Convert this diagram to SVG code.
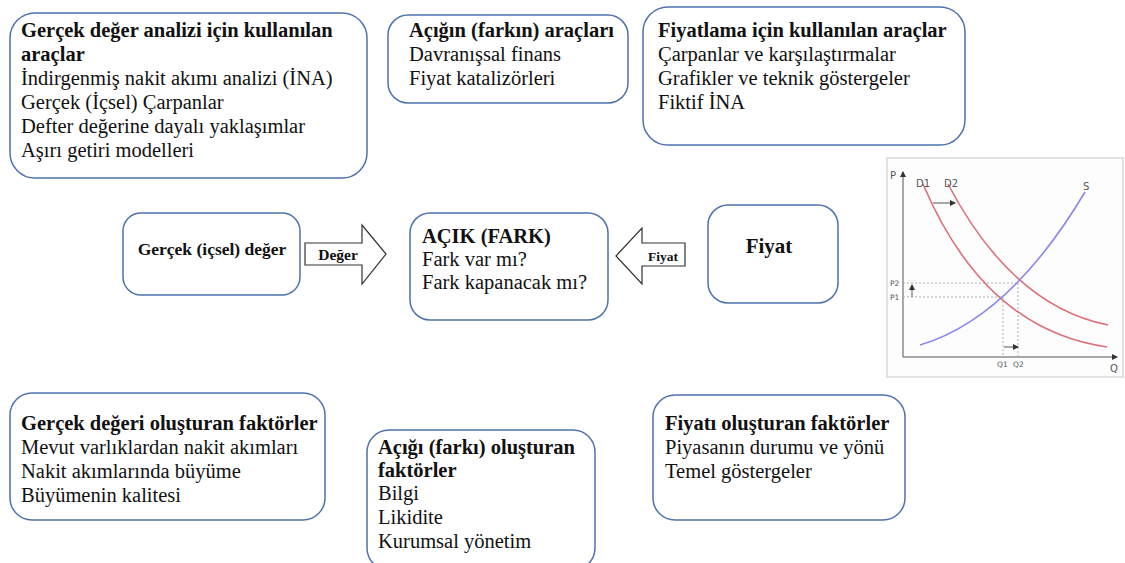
<svg xmlns="http://www.w3.org/2000/svg" width="1125" height="563" viewBox="0 0 1125 563">
<style>
.box{fill:#fff;stroke:#4f72ae;stroke-width:1.5}
.t{font-family:"Liberation Serif","Times New Roman",serif;font-size:20.5px;fill:#111}
.b{font-weight:bold}
.arr{fill:#fff;stroke:#333;stroke-width:1.2}
.al{font-family:"Liberation Serif","Times New Roman",serif;font-weight:bold;fill:#111}
.ax{stroke:#555;stroke-width:1;fill:none}
.dash{stroke:#999;stroke-width:0.8;stroke-dasharray:2,2;fill:none}
.red{stroke:#dd6f7a;stroke-width:1.6;fill:none}
.blue{stroke:#8a86ec;stroke-width:1.6;fill:none}
.cl{font-family:"DejaVu Sans",sans-serif;font-size:10px;fill:#555}
.cs{font-family:"DejaVu Sans",sans-serif;font-size:7.5px;fill:#555}
</style>
<defs>
<marker id="ah" markerWidth="6" markerHeight="6" refX="5" refY="3" orient="auto" markerUnits="userSpaceOnUse"><path d="M0,0 L6,3 L0,6 z" fill="#333"/></marker>
</defs>
<rect width="1125" height="563" fill="#fff"/>

<g id="tools-intrinsic">
<rect class="box" x="10" y="13" width="357" height="165" rx="25"/>
<text class="t b" x="21" y="37">Gerçek değer analizi için kullanılan</text>
<text class="t b" x="21" y="61">araçlar</text>
<text class="t" x="21" y="85">İndirgenmiş nakit akımı analizi (İNA)</text>
<text class="t" x="21" y="109">Gerçek (İçsel) Çarpanlar</text>
<text class="t" x="21" y="133">Defter değerine dayalı yaklaşımlar</text>
<text class="t" x="21" y="157">Aşırı getiri modelleri</text>
</g>

<g id="tools-gap">
<rect class="box" x="388" y="15" width="240" height="88" rx="20"/>
<text class="t b" x="409" y="37">Açığın (farkın) araçları</text>
<text class="t" x="409" y="61">Davranışsal finans</text>
<text class="t" x="409" y="85">Fiyat katalizörleri</text>
</g>

<g id="tools-price">
<rect class="box" x="643" y="7" width="322" height="138" rx="25"/>
<text class="t b" x="658" y="37">Fiyatlama için kullanılan araçlar</text>
<text class="t" x="658" y="61">Çarpanlar ve karşılaştırmalar</text>
<text class="t" x="658" y="85">Grafikler ve teknik göstergeler</text>
<text class="t" x="658" y="109">Fiktif İNA</text>
</g>

<g id="intrinsic-value">
<rect class="box" x="123" y="213" width="177" height="82" rx="18"/>
<text class="t b" x="212" y="255" text-anchor="middle" style="font-size:17.5px">Gerçek (içsel) değer</text>
</g>

<g id="gap">
<rect class="box" x="410" y="213" width="198" height="107" rx="20"/>
<text class="t b" x="422" y="243">AÇIK (FARK)</text>
<text class="t" x="422" y="266">Fark var mı?</text>
<text class="t" x="422" y="289">Fark kapanacak mı?</text>
</g>

<g id="price">
<rect class="box" x="708" y="205" width="130" height="98" rx="20"/>
<text class="t b" x="769" y="253" text-anchor="middle" style="font-size:21px">Fiyat</text>
</g>

<g id="connectors">
<g id="arrow-value">
<polygon class="arr" points="305,243 362,243 362,225 386,254 362,284 362,265 305,265"/>
<text class="al" x="338" y="260" text-anchor="middle" style="font-size:15.5px">Değer</text>
</g>
<g id="arrow-price">
<polygon class="arr" points="616,256 642,228 642,243 685,243 685,266 642,266 642,284"/>
<text class="al" x="663" y="261" text-anchor="middle" style="font-size:13.5px">Fiyat</text>
</g>
</g>

<g id="supply-demand-chart">
<rect x="887" y="158" width="236" height="219" fill="#fdfdfd" stroke="#e2e2e2" stroke-width="2"/>
<line class="ax" x1="903" y1="357" x2="903" y2="172" marker-end="url(#ah)"/>
<line class="ax" x1="903" y1="357" x2="1117" y2="357" marker-end="url(#ah)"/>
<line class="dash" x1="903" y1="283" x2="1018" y2="283"/>
<line class="dash" x1="903" y1="297" x2="1003" y2="297"/>
<line class="dash" x1="1003" y1="297" x2="1003" y2="357"/>
<line class="dash" x1="1018" y1="283" x2="1018" y2="357"/>
<path class="red" d="M923,184 Q985,330 1107,347"/>
<path class="red" d="M948,184 Q1012,306 1108,325"/>
<path class="blue" d="M920,345 Q1010,318 1085,192"/>
<line class="ax" x1="933" y1="203" x2="955" y2="203" stroke="#222" marker-end="url(#ah)"/>
<line class="ax" x1="912" y1="297" x2="912" y2="285" stroke="#222" marker-end="url(#ah)"/>
<line class="ax" x1="1004" y1="347" x2="1018" y2="347" stroke="#222" marker-end="url(#ah)"/>
<text class="cl" x="890" y="179">P</text>
<text class="cl" x="1110" y="372">Q</text>
<text class="cl" x="916" y="187">D1</text>
<text class="cl" x="944" y="187">D2</text>
<text class="cl" x="1083" y="190">S</text>
<text class="cs" x="890" y="286">P2</text>
<text class="cs" x="890" y="300">P1</text>
<text class="cs" x="997" y="367">Q1</text>
<text class="cs" x="1013" y="367">Q2</text>
</g>

<g id="factors-intrinsic">
<rect class="box" x="10" y="393" width="315" height="127" rx="22"/>
<text class="t b" x="21" y="430">Gerçek değeri oluşturan faktörler</text>
<text class="t" x="21" y="454">Mevut varlıklardan nakit akımları</text>
<text class="t" x="21" y="478">Nakit akımlarında büyüme</text>
<text class="t" x="21" y="502">Büyümenin kalitesi</text>
</g>

<g id="factors-gap">
<rect class="box" x="367" y="430" width="228" height="140" rx="22"/>
<text class="t b" x="378" y="454">Açığı (farkı) oluşturan</text>
<text class="t b" x="378" y="477">faktörler</text>
<text class="t" x="378" y="500">Bilgi</text>
<text class="t" x="378" y="524">Likidite</text>
<text class="t" x="378" y="548">Kurumsal yönetim</text>
</g>

<g id="factors-price">
<rect class="box" x="653" y="395" width="252" height="125" rx="22"/>
<text class="t b" x="665" y="430">Fiyatı oluşturan faktörler</text>
<text class="t" x="665" y="454">Piyasanın durumu ve yönü</text>
<text class="t" x="665" y="478">Temel göstergeler</text>
</g>
</svg>
